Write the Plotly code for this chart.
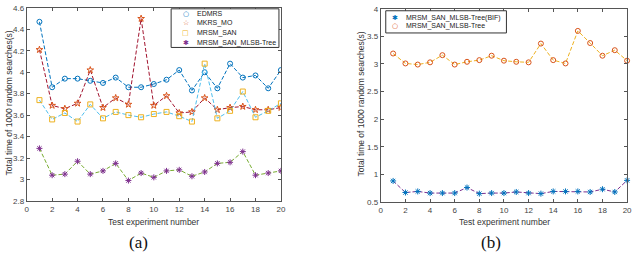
import plotly.graph_objects as go

# ---------------- data ----------------
experiments = list(range(1, 21))

# panel (a)
edmrs = [4.47, 3.86, 3.94, 3.94, 3.92, 3.90, 3.95, 3.86, 3.86, 3.89,
         3.93, 4.02, 3.83, 4.00, 3.85, 4.08, 3.95, 3.97, 3.85, 4.02]
mkrs_mo = [4.21, 3.69, 3.66, 3.71, 4.02, 3.67, 3.76, 3.70, 4.50, 3.69,
           3.78, 3.62, 3.63, 3.76, 3.65, 3.67, 3.68, 3.65, 3.65, 3.67]
mrsm_san = [3.74, 3.56, 3.62, 3.54, 3.70, 3.57, 3.63, 3.60, 3.58, 3.61,
            3.63, 3.59, 3.54, 4.08, 3.57, 3.64, 3.82, 3.58, 3.64, 3.71]
mrsm_mlsb = [3.29, 3.04, 3.05, 3.17, 3.05, 3.08, 3.15, 2.99, 3.06, 3.02,
             3.08, 3.09, 3.03, 3.07, 3.15, 3.16, 3.26, 3.04, 3.06, 3.08]

# panel (b)
mlsb_bif = [0.88, 0.67, 0.69, 0.66, 0.66, 0.66, 0.76, 0.65, 0.66, 0.66,
            0.68, 0.66, 0.65, 0.69, 0.69, 0.69, 0.68, 0.73, 0.68, 0.89]
mlsb_tree = [3.19, 3.01, 2.99, 3.03, 3.16, 2.99, 3.04, 3.07, 3.15, 3.06,
             3.04, 3.03, 3.37, 3.07, 3.01, 3.60, 3.38, 3.15, 3.25, 3.06]

legend_a = ["EDMRS", "MKRS_MO", "MRSM_SAN", "MRSM_SAN_MLSB-Tree"]
legend_b = ["MRSM_SAN_MLSB-Tree(BIF)", "MRSM_SAN_MLSB-Tree"]
y_title = "Total time of 1000 random searches(s)"
x_title = "Test experiment number"

# ---------------- styles ----------------
BLUE = "#0072BD"; ORANGE = "#D95319"; YELLOW = "#EDB120"; PURPLE = "#7E2F8E"
GREEN = "#77AC30"; CYAN = "#4DBEEE"; DRED = "#A2142F"
DASH = "4px,2px"

W, H = 640, 260
def px_x(p): return p / W
def px_y(p): return 1 - p / H

fig = go.Figure()

series_a = [
    (edmrs, BLUE, BLUE, "circle-open", 5),
    (mkrs_mo, DRED, ORANGE, "star-open", 5),
    (mrsm_san, CYAN, YELLOW, "square-open", 5),
    (mrsm_mlsb, GREEN, PURPLE, "asterisk-open", 5),
]
for (vals, lc, mc, sym, sz), name in zip(series_a, legend_a):
    fig.add_trace(go.Scatter(
        x=experiments, y=vals, name=name, mode="lines+markers",
        line=dict(color=lc, width=1, dash=DASH),
        marker=dict(symbol=sym, size=sz, color=mc, line=dict(width=1, color=mc)),
        xaxis="x", yaxis="y", showlegend=False))

series_b = [
    (mlsb_bif, PURPLE, BLUE, "asterisk-open", 5),
    (mlsb_tree, YELLOW, ORANGE, "circle-open", 5),
]
for (vals, lc, mc, sym, sz), name in zip(series_b, legend_b):
    fig.add_trace(go.Scatter(
        x=experiments, y=vals, name=name, mode="lines+markers",
        line=dict(color=lc, width=1, dash=DASH),
        marker=dict(symbol=sym, size=sz, color=mc, line=dict(width=1, color=mc)),
        xaxis="x2", yaxis="y2", showlegend=False, cliponaxis=False))

axis_common = dict(showline=True, linecolor="#555555", linewidth=1, mirror="ticks",
                   ticks="inside", ticklen=3, tickcolor="#555555", showgrid=False,
                   zeroline=False, tickfont=dict(family="Liberation Sans, Arial", size=8, color="#444444"))

fig.update_layout(
    width=W, height=H, margin=dict(l=0, r=0, t=0, b=0),
    paper_bgcolor="white", plot_bgcolor="white",
    xaxis=dict(domain=[px_x(25), px_x(282)], range=[0, 20], dtick=2, anchor="y", **axis_common),
    yaxis=dict(domain=[px_y(204), px_y(4)], range=[2.8, 4.6], dtick=0.2, anchor="x", **axis_common),
    xaxis2=dict(domain=[px_x(383), px_x(632)], range=[0, 20], dtick=2, anchor="y2", **axis_common),
    yaxis2=dict(domain=[px_y(205), px_y(5)], range=[0.5, 4], dtick=0.5, anchor="x2", **axis_common),
)

font_lbl = dict(family="Liberation Sans, Arial", size=8.5, color="#333333")
ann = []
shapes = []
# axis titles
ann.append(dict(text=y_title, x=px_x(8), y=px_y(102), xref="paper", yref="paper",
                textangle=-90, showarrow=False, font=font_lbl, xanchor="center", yanchor="middle"))
ann.append(dict(text=y_title, x=px_x(363), y=px_y(104), xref="paper", yref="paper",
                textangle=-90, showarrow=False, font=font_lbl, xanchor="center", yanchor="middle"))
ann.append(dict(text=x_title, x=px_x(153), y=px_y(226), xref="paper", yref="paper",
                showarrow=False, font=font_lbl, xanchor="center", yanchor="middle"))
ann.append(dict(text=x_title, x=px_x(508), y=px_y(226), xref="paper", yref="paper",
                showarrow=False, font=font_lbl, xanchor="center", yanchor="middle"))
# captions
cap_font = dict(family="Liberation Serif, DejaVu Serif, serif", size=17, color="#111111")
ann.append(dict(text="(a)", x=px_x(138), y=px_y(247), xref="paper", yref="paper",
                showarrow=False, font=cap_font, xanchor="center", yanchor="middle"))
ann.append(dict(text="(b)", x=px_x(494), y=px_y(247), xref="paper", yref="paper",
                showarrow=False, font=cap_font, xanchor="center", yanchor="middle"))

# custom compact legends (MATLAB-like)
glyphs_a = [("○", BLUE), ("☆", ORANGE), ("□", YELLOW), ("✱", PURPLE)]
glyphs_b = [("✱", BLUE), ("○", ORANGE)]
leg_font = dict(family="Liberation Sans, Arial", size=7, color="#222222")

def add_legend(x0, x1, y0, y1, gx, tx, rows, names, glyphs):
    shapes.append(dict(type="rect", xref="paper", yref="paper",
                       x0=px_x(x0), x1=px_x(x1), y0=px_y(y1), y1=px_y(y0),
                       line=dict(color="#333333", width=1), fillcolor="white",
                       layer="above"))
    for ry, name, (g, c) in zip(rows, names, glyphs):
        ann.append(dict(text=g, x=px_x(gx), y=px_y(ry), xref="paper", yref="paper",
                        showarrow=False, font=dict(family="DejaVu Sans", size=7, color=c),
                        xanchor="center", yanchor="middle"))
        ann.append(dict(text=name, x=px_x(tx), y=px_y(ry), xref="paper", yref="paper",
                        showarrow=False, font=leg_font, xanchor="left", yanchor="middle"))

add_legend(171, 280, 5, 45, 186, 195, [10, 20, 30, 40], legend_a, glyphs_a)
add_legend(388, 510, 7, 30, 397, 406, [14, 23], legend_b, glyphs_b)

fig.update_layout(annotations=ann, shapes=shapes)
fig.write_html("out.html", config={"displayModeBar": False},
               post_script="document.body.style.margin='0';document.body.style.overflow='hidden';")
